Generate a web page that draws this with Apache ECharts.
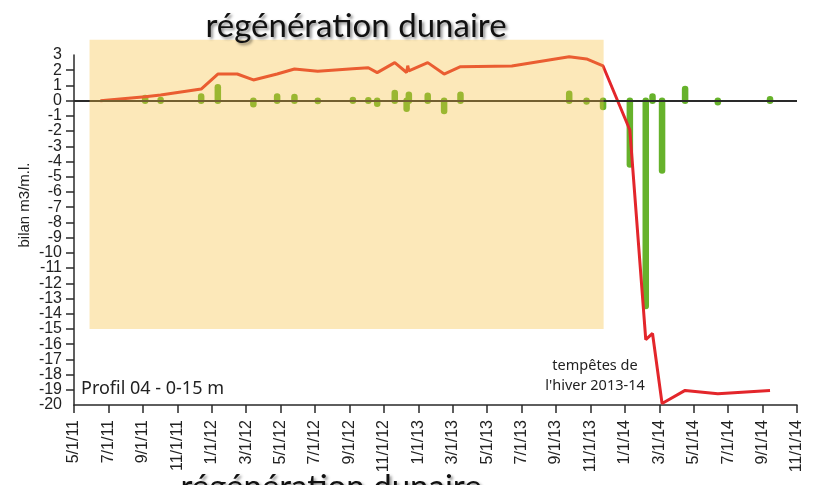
<!DOCTYPE html>
<html>
<head>
<meta charset="utf-8">
<script src="https://cdn.jsdelivr.net/npm/echarts@6/dist/echarts.min.js"></script>
<style>
  html, body { margin: 0; padding: 0; background: #fff; }
  #chart { width: 819px; height: 485px; }
</style>
</head>
<body>
<div id="chart"></div>
<script>
// survey dates of the volume differences (green sticks)
const barDates = ['2011-06-17', '2011-09-05', '2011-10-02', '2011-12-13', '2012-01-12', '2012-02-15',
  '2012-03-14', '2012-04-25', '2012-05-26', '2012-07-06', '2012-09-07', '2012-10-04', '2012-10-20',
  '2012-11-20', '2012-12-11', '2012-12-15', '2013-01-18', '2013-02-15', '2013-03-15', '2013-06-14',
  '2013-09-24', '2013-10-25', '2013-11-23', '2014-01-10', '2014-02-07', '2014-02-18', '2014-03-06',
  '2014-04-16', '2014-06-13', '2014-09-14']
const barValues = [0, 0.17, 0.05, 0.28, 0.88, 0, -0.24, 0.28, 0.24, -0.03, 0.05, 0.03, -0.2,
  0.5, -0.53, 0.39, 0.32, -0.68, 0.39, 0, 0.45, -0.05, -0.42, -4.19, -13.5, 0.28, -4.59,
  0.76, -0.1, 0.1]

// cumulative balance (red line)
const lineDates = ['2011-06-17', '2011-09-05', '2011-10-02', '2011-12-13', '2012-01-12', '2012-02-15',
  '2012-03-14', '2012-04-25', '2012-05-26', '2012-07-06', '2012-09-07', '2012-10-04', '2012-10-20',
  '2012-11-20', '2012-12-11', '2012-12-13', '2012-12-15', '2013-01-18', '2013-02-15', '2013-03-15',
  '2013-06-14', '2013-09-24', '2013-10-25', '2013-11-23', '2014-01-10', '2014-02-07', '2014-02-18',
  '2014-03-06', '2014-04-16', '2014-06-13', '2014-09-14']
const lineValues = [0, 0.26, 0.37, 0.76, 1.75, 1.75, 1.36, 1.75, 2.08, 1.93, 2.1, 2.16, 1.84,
  2.5, 1.85, 2.3, 1.95, 2.5, 1.75, 2.23, 2.28, 2.89, 2.74, 2.28, -1.93, -15.7, -15.3,
  -19.9, -19.04, -19.26, -19.04]

// "régénération dunaire" period
const shadeDates = ['2011-05-29', '2013-11-24']
const shadeValues = [4, -15]

const Y_MIN = -20
const Y_MAX = 3
const START_YEAR = 2011
const START_MONTH = 5 // axis starts at 5/1/11, one unit = one month
const AXIS_MONTHS = 42

const RED = '#e3262b'
const GREEN = '#66b22b'
const AXIS = '#2a2a2a'
const FONT = '"Liberation Sans", Arial, sans-serif'

function toMonthIndex(str) {
  const [y, m, d] = str.split('-').map(Number)
  const days = new Date(y, m, 0).getDate()
  return (y - START_YEAR) * 12 + (m - START_MONTH) + (d - 1) / days
}

function monthLabel(v) {
  const total = START_MONTH - 1 + Math.round(v)
  const year = START_YEAR + Math.floor(total / 12)
  const month = (total % 12) + 1
  return month + '/1/' + String(year).slice(2)
}

const yLabelStyle = { margin: 12, fontSize: 16, color: '#222', fontFamily: FONT }

const chart = echarts.init(document.getElementById('chart'), null, { renderer: 'canvas' })

const option = {
  animation: false,
  grid: { left: 74, right: 22, top: 55, bottom: 80 },
  xAxis: {
    type: 'value',
    min: 0,
    max: AXIS_MONTHS,
    interval: 2,
    axisLine: { onZero: false, lineStyle: { color: AXIS, width: 1.5 } },
    axisTick: { length: 8, lineStyle: { color: AXIS, width: 1.5 } },
    axisLabel: {
      rotate: 90,
      margin: 15,
      fontSize: 16,
      color: '#222',
      fontFamily: FONT,
      showMinLabel: true,
      showMaxLabel: true,
      formatter: monthLabel
    },
    splitLine: { show: false }
  },
  yAxis: [
    {
      type: 'value',
      min: Y_MIN,
      max: Y_MAX,
      interval: 1,
      axisLine: { show: true, lineStyle: { color: AXIS, width: 1.5 } },
      axisTick: { show: true, length: 8, lineStyle: { color: AXIS, width: 1.5 } },
      axisLabel: yLabelStyle,
      splitLine: { show: false }
    },
    {
      // same scale, only carries the end labels that the first axis drops
      type: 'value',
      position: 'left',
      offset: 0,
      min: Y_MIN,
      max: Y_MAX,
      interval: 1,
      axisLine: { show: false },
      axisTick: { show: false },
      axisLabel: Object.assign({}, yLabelStyle, {
        showMinLabel: true,
        showMaxLabel: true,
        formatter: (v) => (v === Y_MIN || v === Y_MAX ? String(v) : '')
      }),
      splitLine: { show: false }
    }
  ],
  series: [
    {
      name: 'difference',
      type: 'custom',
      z: 2,
      encode: { x: 0, y: 1 },
      data: barDates.map((d, i) => [toMonthIndex(d), barValues[i]]),
      renderItem(params, api) {
        const p0 = api.coord([api.value(0), 0])
        const p1 = api.coord([api.value(0), api.value(1)])
        return {
          type: 'line',
          shape: { x1: p0[0], y1: p0[1], x2: p1[0], y2: p1[1] },
          style: { stroke: GREEN, lineWidth: 6.5, lineCap: 'round' }
        }
      },
      markLine: {
        silent: true,
        symbol: 'none',
        label: { show: false },
        lineStyle: { color: AXIS, width: 2, type: 'solid' },
        data: [{ yAxis: 0 }]
      }
    },
    {
      name: 'bilan',
      type: 'line',
      z: 3,
      symbol: 'none',
      lineStyle: { color: RED, width: 3 },
      data: lineDates.map((d, i) => [toMonthIndex(d), lineValues[i]])
    }
  ]
}

chart.setOption(option)

const p0 = chart.convertToPixel({ gridIndex: 0 }, [toMonthIndex(shadeDates[0]), shadeValues[0]])
const p1 = chart.convertToPixel({ gridIndex: 0 }, [toMonthIndex(shadeDates[1]), shadeValues[1]])

const titleStyle = {
  text: 'régénération dunaire',
  font: '33px Lato, "Open Sans", sans-serif',
  fill: '#111',
  textAlign: 'center',
  textVerticalAlign: 'bottom',
  textShadowColor: 'rgba(0,0,0,0.45)',
  textShadowBlur: 3,
  textShadowOffsetX: 2,
  textShadowOffsetY: 2
}

chart.setOption({
  graphic: [
    {
      type: 'rect',
      z: 100,
      silent: true,
      shape: { x: p0[0], y: p0[1], width: p1[0] - p0[0], height: p1[1] - p0[1] },
      style: { fill: 'rgba(246, 192, 62, 0.36)' }
    },
    { type: 'text', z: 110, x: 356, y: 43, style: titleStyle },
    { type: 'text', z: 110, x: 331, y: 504, style: titleStyle },
    {
      type: 'text',
      z: 110,
      x: 25,
      y: 205,
      rotation: Math.PI / 2,
      style: {
        text: 'bilan m3/m.l.',
        font: '15px ' + FONT,
        fill: '#222',
        textAlign: 'center',
        textVerticalAlign: 'middle'
      }
    },
    {
      type: 'text',
      z: 110,
      x: 81,
      y: 389,
      style: {
        text: 'Profil 04 - 0-15 m',
        font: '18px "Noto Sans", sans-serif',
        fill: '#222',
        textVerticalAlign: 'middle'
      }
    },
    {
      type: 'text',
      z: 110,
      x: 595,
      y: 376,
      style: {
        text: 'tempêtes de\nl\'hiver 2013-14',
        font: '14.5px "Noto Sans", sans-serif',
        lineHeight: 20,
        fill: '#222',
        textAlign: 'center',
        textVerticalAlign: 'middle'
      }
    }
  ]
})
</script>
</body>
</html>
